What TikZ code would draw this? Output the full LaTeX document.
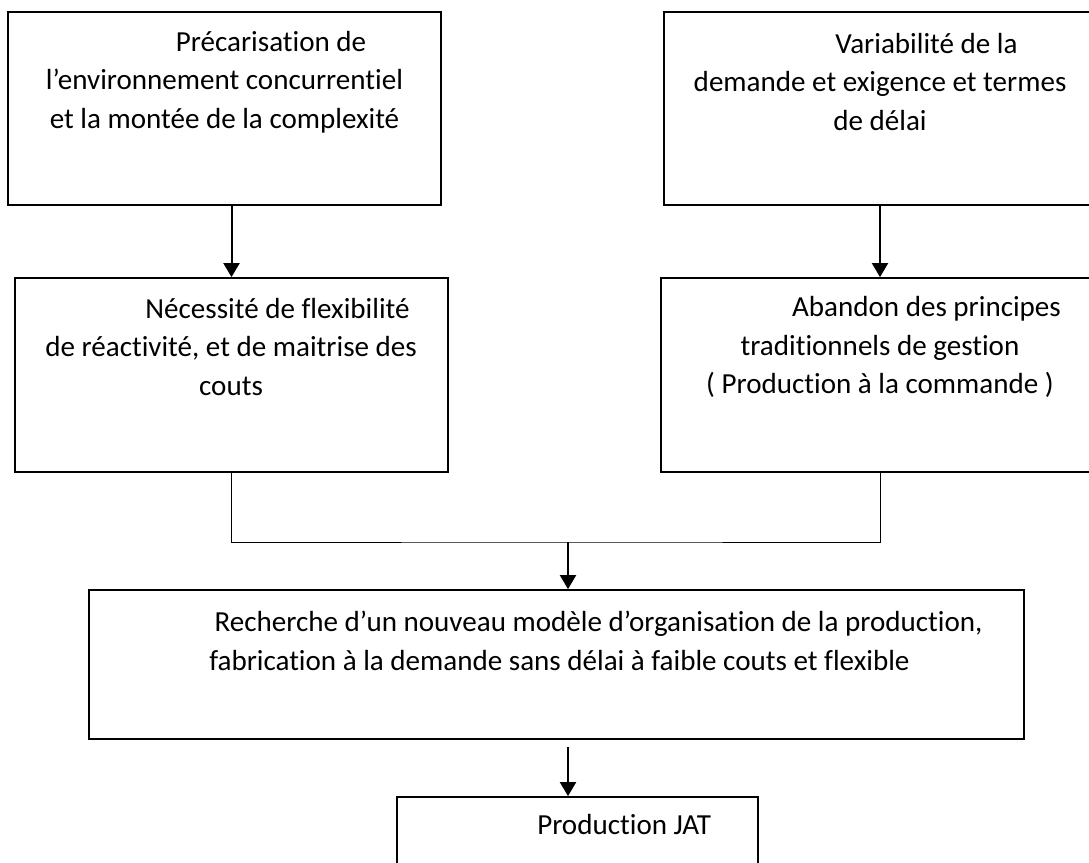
\documentclass[tikz,border=0pt]{standalone}
\usepackage{fontspec}
\setmainfont{Carlito}[Ligatures=NoCommon]
\usetikzlibrary{arrows.meta,fit}

\tikzset{
  box/.style={draw, line width=1.3pt, inner sep=0pt},
  txt/.style={align=center, inner sep=0pt, font=\fontsize{21.8}{28.9}\selectfont},
  link/.style={line width=0.7pt},
  flow/.style={line width=1.5pt, -{Triangle[length=10.5pt,width=12pt]}}
}

\begin{document}
\begin{tikzpicture}[x=0.75pt, y=-0.75pt]
  \useasboundingbox (0,0) rectangle (1089,863);
  \clip (0,0) rectangle (1089,863);

  % upper row
  \node[box, fit={(8,12) (441,205)}] (prec) {};
  \node[box, fit={(664,12) (1096,205)}] (vari) {};
  \node[txt] (precT) at (224.5,82) {\hspace*{3.2em}Précarisation de\\
    l’environnement concurrentiel\\ et la montée de la complexité};
  \node[txt] (variT) at (880,82) {\hspace*{3.2em}Variabilité de la\\
    demande et exigence et termes\\ de délai};

  % middle row
  \node[box, fit={(15,278) (448,472)}] (nece) {};
  \node[box, fit={(661,278) (1099,472)}] (aban) {};
  \node[txt] (neceT) at (231,347) {\hspace*{3.2em}Nécessité de flexibilité\\
    de réactivité, et de maitrise des\\ couts};
  \node[txt] (abanT) at (880,347) {\hspace*{3.2em}Abandon des principes\\
    traditionnels de gestion\\ ( Production à la commande )};

  % lower boxes
  \node[box, fit={(89,590) (1024,739)}] (rech) {};
  \node[txt, align=left, anchor=west] (rechT) at (209,641) {\hspace*{4pt}Recherche d’un nouveau modèle d’organisation de la production,\\
    fabrication à la demande sans délai à faible couts et flexible};
  \node[box, fit={(397,797) (758,900)}] (jat) {};
  \node[txt, anchor=west] (jatT) at (537,825) {Production JAT};

  % arrows
  \draw[flow] (nece.north |- prec.south) -- (nece.north);
  \draw[flow] (aban.north |- vari.south) -- (aban.north);
  \coordinate (join) at (568,542);
  \draw[link] (nece.south) |- (join) -| (aban.south);
  \draw[flow] (join) -- (join |- rech.north);
  \coordinate (out) at (568,747);
  \draw[flow] (out) -- (out |- jat.north);
\end{tikzpicture}
\end{document}
